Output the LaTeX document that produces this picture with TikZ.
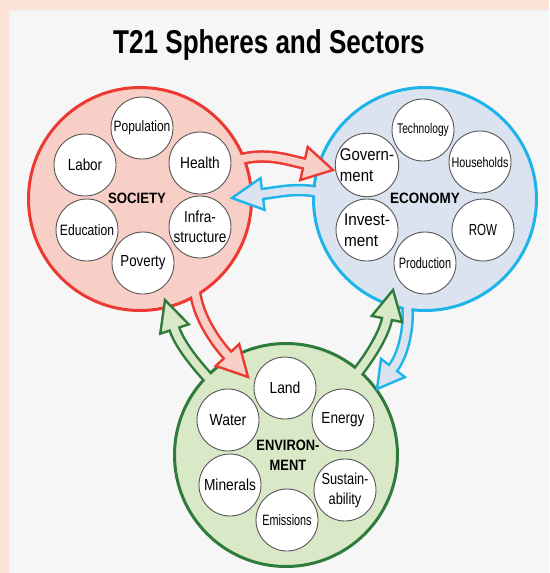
\documentclass[tikz,border=0pt]{standalone}
\usepackage{fontspec}
\setmainfont{Liberation Sans}
\usetikzlibrary{calc}
\definecolor{peach}{HTML}{FDE3D6}
\definecolor{panel}{HTML}{F6F6F6}
\definecolor{paneledge}{HTML}{EFF4F9}
\definecolor{socfill}{HTML}{F8CFC7}
\definecolor{socline}{HTML}{EC3A32}
\definecolor{ecofill}{HTML}{DCE3F0}
\definecolor{ecoline}{HTML}{1DB4EA}
\definecolor{envfill}{HTML}{D9E8C6}
\definecolor{envline}{HTML}{2F7B3B}
\definecolor{smallline}{HTML}{555555}
\newcommand\sx[2]{\scalebox{#1}[1]{#2}}
\newcommand\fs[2]{\fontsize{#1}{#2}\selectfont}
% outer stroke of a block arrow: #1 colour, #2 start, #3 ctrl, #4 head base, #5 tip
\newcommand\arrowouter[5]{\draw[line width=12.5pt, #1] (#2) .. controls (#3) and ($(#4)!-18pt!(#5)$) .. (#4);}
\newcommand\arrowinner[5]{\draw[line width=7.5pt, #1] (#2) .. controls (#3) and ($(#4)!-18pt!(#5)$) .. (#4) -- ($(#4)!4pt!(#5)$);}
% head: #1 fill, #2 line, #3 base, #4 tip, #5 half width
\newcommand\arrowhead[5]{\filldraw[fill=#1, draw=#2, line width=2.4pt, line join=miter] ($(#3)!#5!90:(#4)$) -- (#4) -- ($(#3)!#5!-90:(#4)$) -- cycle;}
\begin{document}
\begin{tikzpicture}[x=1pt, y=-1pt,
  sphere/.style={circle, line width=3pt, minimum size=223pt, inner sep=0pt},
  small/.style={circle, draw=smallline, line width=0.9pt, fill=white, minimum size=62pt, inner sep=0pt, align=center},
  spherelab/.style={align=center, font=\fs{15}{20}\bfseries}]
\useasboundingbox (0,0) rectangle (549,573);
\fill[peach] (0,0) rectangle (549,573);
\fill[panel] (9,10) rectangle (549,573);
\draw[paneledge, line width=2pt] (10,573) -- (10,11) -- (549,11);
\node[anchor=base, font=\fs{33}{36}\bfseries] (title) at (269,53.5) {\sx{0.79}{T21 Spheres and Sectors}};

% arrow geometry
\coordinate (a1s) at (238,160); \coordinate (a1c) at (265,152); \coordinate (a1h) at (304,163.5); \coordinate (a1t) at (333,170);
\coordinate (a2s) at (322,193); \coordinate (a2c) at (300,187); \coordinate (a2h) at (262.5,194); \coordinate (a2t) at (232,198);
\coordinate (a3s) at (195,290); \coordinate (a3c) at (197,315); \coordinate (a3h) at (227.5,355); \coordinate (a3t) at (248,377);
\coordinate (a4s) at (212,382); \coordinate (a4c) at (199,368); \coordinate (a4h) at (174.5,329); \coordinate (a4t) at (165,300);
\coordinate (a5s) at (354,377); \coordinate (a5c) at (367,361); \coordinate (a5h) at (387,319); \coordinate (a5t) at (393,290);
\coordinate (a6s) at (407,300); \coordinate (a6c) at (410,325); \coordinate (a6h) at (393,368); \coordinate (a6t) at (377,389);

\arrowouter{socline}{a1s}{a1c}{a1h}{a1t}
\arrowouter{ecoline}{a2s}{a2c}{a2h}{a2t}
\arrowouter{socline}{a3s}{a3c}{a3h}{a3t}
\arrowouter{envline}{a4s}{a4c}{a4h}{a4t}
\arrowouter{envline}{a5s}{a5c}{a5h}{a5t}
\arrowouter{ecoline}{a6s}{a6c}{a6h}{a6t}

% spheres
\node[sphere, fill=socfill, draw=socline] (soc) at (140,199) {};
\node[sphere, fill=ecofill, draw=ecoline] (eco) at (425,199) {};
\node[sphere, fill=envfill, draw=envline] (env) at (286,455) {};

\arrowhead{socfill}{socline}{a1h}{a1t}{17pt}
\arrowhead{ecofill}{ecoline}{a2h}{a2t}{16pt}
\arrowhead{socfill}{socline}{a3h}{a3t}{16pt}
\arrowhead{envfill}{envline}{a4h}{a4t}{15pt}
\arrowhead{envfill}{envline}{a5h}{a5t}{15.5pt}
\arrowhead{ecofill}{ecoline}{a6h}{a6t}{15pt}

\arrowinner{socfill}{a1s}{a1c}{a1h}{a1t}
\arrowinner{ecofill}{a2s}{a2c}{a2h}{a2t}
\arrowinner{socfill}{a3s}{a3c}{a3h}{a3t}
\arrowinner{envfill}{a4s}{a4c}{a4h}{a4t}
\arrowinner{envfill}{a5s}{a5c}{a5h}{a5t}
\arrowinner{ecofill}{a6s}{a6c}{a6h}{a6t}

% society
\node[spherelab] (soclab) at (137,198) {\sx{0.88}{SOCIETY}};
\node[small, font=\fs{15}{19}] (pop) at (142,128) {\sx{0.80}{Population}};
\node[small, font=\fs{16}{20}] (hea) at (200,163) {\sx{0.86}{Health}};
\node[small, font=\fs{16}{20}] (inf) at (200,227) {\sx{0.85}{Infra-}\\\sx{0.85}{structure}};
\node[small, font=\fs{16}{20}] (pov) at (143,263) {\sx{0.83}{Poverty}};
\node[small, font=\fs{15}{20}] (edu) at (87,230) {\sx{0.81}{Education}};
\node[small, font=\fs{16}{20}] (lab) at (85,165) {\sx{0.84}{Labor}};

% economy
\node[spherelab] (ecolab) at (425,198) {\sx{0.9}{ECONOMY}};
\node[small, font=\fs{14}{18}] (tec) at (423,130) {\sx{0.73}{Technology}};
\node[small, font=\fs{14}{18}] (hou) at (480,162) {\sx{0.77}{Households}};
\node[small, font=\fs{16}{20}] (row) at (483,230) {\sx{0.72}{ROW}};
\node[small, font=\fs{15}{19}] (pro) at (425,263) {\sx{0.73}{Production}};
\node[small, font=\fs{17}{21.5}, align=left] (inv) at (367,230) {\sx{0.9}{Invest-}\\\sx{0.9}{ment}};
\node[small, font=\fs{17}{21.5}, align=left] (gov) at (367,165) {\sx{0.88}{Govern-}\\\sx{0.88}{ment}};

% environment
\node[spherelab] (envlab) at (288,455) {\sx{0.86}{ENVIRON-}\\\sx{0.86}{MENT}};
\node[small, font=\fs{16}{20}] (lan) at (285,388) {\sx{0.87}{Land}};
\node[small, font=\fs{16}{20}] (ene) at (343,420) {\sx{0.85}{Energy}};
\node[small, font=\fs{16}{20}] (sus) at (345,490) {\sx{0.8}{Sustain-}\\\sx{0.8}{ability}};
\node[small, font=\fs{15}{19}] (emi) at (287,520) {\sx{0.72}{Emissions}};
\node[small, font=\fs{16}{20}] (min) at (230,485) {\sx{0.86}{Minerals}};
\node[small, font=\fs{16}{20}] (wat) at (228,420) {\sx{0.87}{Water}};
\end{tikzpicture}
\end{document}
